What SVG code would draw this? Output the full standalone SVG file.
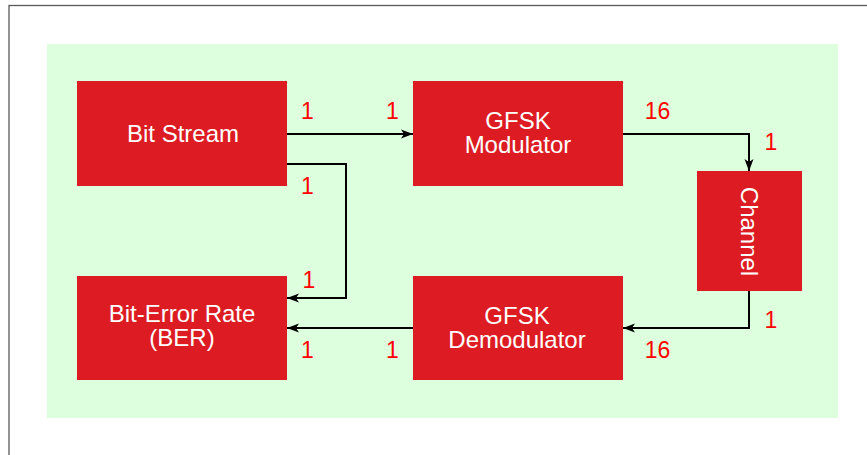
<svg xmlns="http://www.w3.org/2000/svg" width="867" height="455" viewBox="0 0 867 455">
  <style>
    .node { fill: #dc1c22; }
    .nt { fill: #ffffff; font-family: "Liberation Sans", Arial, sans-serif; font-size: 24px; text-anchor: middle; }
    .lbl { fill: #ff0000; font-family: "Liberation Sans", Arial, sans-serif; font-size: 23px; text-anchor: middle; }
    .conn { fill: none; stroke: #000000; stroke-width: 2; }
  </style>
  <defs>
    <marker id="arrow" markerUnits="userSpaceOnUse" markerWidth="14" markerHeight="11" refX="12" refY="5" orient="auto">
      <path d="M0,0.5 L12,5 L0,9.5 L3,5 z" fill="#000000"/>
    </marker>
  </defs>
  <rect x="0" y="0" width="867" height="455" fill="#ffffff"/>
  <rect x="9" y="5.5" width="900" height="500" fill="none" stroke="#5a5a5a" stroke-width="1.3"/>
  <rect x="47" y="44" width="791" height="374" fill="#ddffdd"/>

  <g id="connectors">
    <path class="conn" d="M287,134 L413,134" marker-end="url(#arrow)"/>
    <path class="conn" d="M287,164 L346,164 L346,298 L287,298" marker-end="url(#arrow)"/>
    <path class="conn" d="M623,134 L749,134 L749,171" marker-end="url(#arrow)"/>
    <path class="conn" d="M749,291 L749,328 L623,328" marker-end="url(#arrow)"/>
    <path class="conn" d="M413,328 L287,328" marker-end="url(#arrow)"/>
  </g>

  <g id="bitstream">
    <rect class="node" x="77" y="81" width="210" height="105"/>
    <text class="nt" x="183" y="142">Bit Stream</text>
  </g>
  <g id="modulator">
    <rect class="node" x="413" y="81" width="210" height="105"/>
    <text class="nt" x="518" y="129">GFSK</text>
    <text class="nt" x="518" y="153">Modulator</text>
  </g>
  <g id="channel">
    <rect class="node" x="697" y="171" width="105" height="120"/>
    <text class="nt" transform="translate(749.5,231.5) rotate(90)" x="0" y="8.5">Channel</text>
  </g>
  <g id="ber">
    <rect class="node" x="77" y="276" width="210" height="104"/>
    <text class="nt" x="182" y="322">Bit-Error Rate</text>
    <text class="nt" x="182" y="346">(BER)</text>
  </g>
  <g id="demodulator">
    <rect class="node" x="413" y="276" width="210" height="104"/>
    <text class="nt" x="517" y="324">GFSK</text>
    <text class="nt" x="517" y="348">Demodulator</text>
  </g>

  <g id="labels">
    <text class="lbl" x="307.5" y="119">1</text>
    <text class="lbl" x="392.5" y="119">1</text>
    <text class="lbl" x="307.5" y="194">1</text>
    <text class="lbl" x="309" y="288">1</text>
    <text class="lbl" x="307.5" y="358">1</text>
    <text class="lbl" x="392.5" y="358">1</text>
    <text class="lbl" x="657.5" y="119">16</text>
    <text class="lbl" x="771" y="150">1</text>
    <text class="lbl" x="771" y="328">1</text>
    <text class="lbl" x="657.5" y="358">16</text>
  </g>
</svg>
